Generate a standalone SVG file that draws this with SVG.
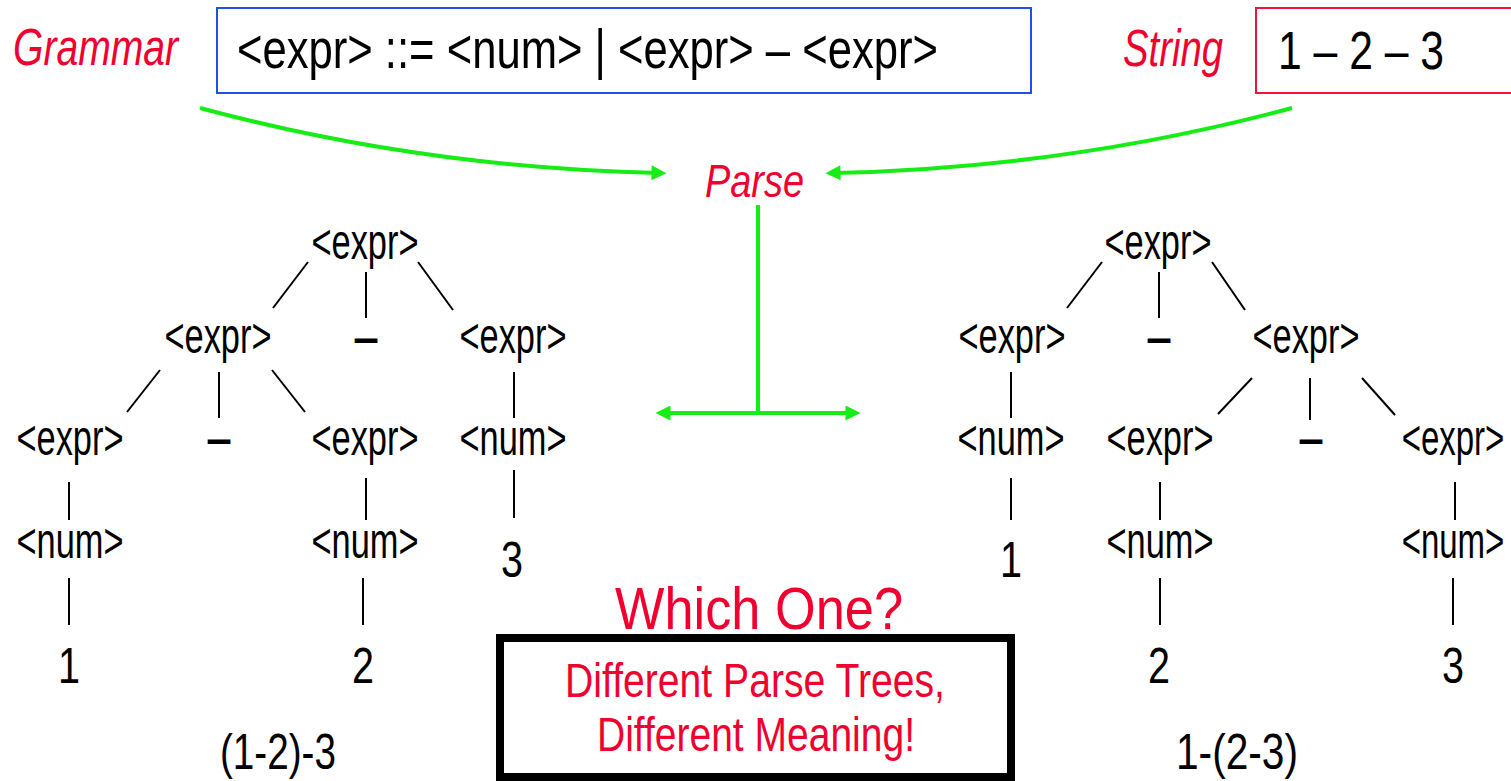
<svg xmlns="http://www.w3.org/2000/svg" width="1511" height="781" viewBox="0 0 1511 781">
<style>
  text { font-family: "Liberation Sans", Arial, sans-serif; }
  .t { font-size: 50px; fill: #000; }
  .op { font-size: 46px; font-weight: bold; fill: #000; }
  .red { fill: #f0002e; }
  .it { font-style: italic; }
  .edge { stroke: #000; stroke-width: 2; fill: none; }
  .green { stroke: #16ec16; stroke-width: 4; fill: none; }
</style>
<defs>
  <marker id="ah" viewBox="0 0 10 10" refX="5" refY="5" markerUnits="userSpaceOnUse" markerWidth="16" markerHeight="15" orient="auto-start-reverse">
    <path d="M0,0 L10,5 L0,10 z" fill="#16ec16"/>
  </marker>
</defs>
<rect width="1511" height="781" fill="#fff"/>

<g id="grammar-label"><text class="red it" x="13" y="65" font-size="52" textLength="165" lengthAdjust="spacingAndGlyphs">Grammar</text></g>
<g id="grammar-box">
  <rect x="217" y="8" width="814" height="85" fill="#fff" stroke="#1f4fe6" stroke-width="2"/>
  <text x="237" y="68" font-size="55" textLength="701" lengthAdjust="spacingAndGlyphs">&lt;expr&gt; ::= &lt;num&gt; | &lt;expr&gt; – &lt;expr&gt;</text>
</g>
<g id="string-label"><text class="red it" x="1123" y="66" font-size="52" textLength="100" lengthAdjust="spacingAndGlyphs">String</text></g>
<g id="string-box">
  <rect x="1256" y="8" width="270" height="85" fill="#fff" stroke="#f0143c" stroke-width="2"/>
  <text x="1278" y="69" font-size="54" textLength="166" lengthAdjust="spacingAndGlyphs">1 – 2 – 3</text>
</g>
<g id="parse"><text class="red it" x="705" y="197" font-size="46" textLength="99" lengthAdjust="spacingAndGlyphs">Parse</text></g>

<g id="connectors">
  <path class="green" d="M200,108 Q423,168 659,173" marker-end="url(#ah)"/>
  <path class="green" d="M1292,108 Q1069,168 833,173" marker-end="url(#ah)"/>
  <path class="green" d="M758,205 L758,413"/>
  <path class="green" d="M663,413 L853,413" marker-start="url(#ah)" marker-end="url(#ah)"/>

  <!-- left tree edges -->
  <line class="edge" x1="308" y1="262" x2="273" y2="308"/>
  <line class="edge" x1="366" y1="272" x2="366" y2="318"/>
  <line class="edge" x1="418" y1="262" x2="453" y2="310"/>
  <line class="edge" x1="160" y1="370" x2="127" y2="412"/>
  <line class="edge" x1="219" y1="372" x2="219" y2="418"/>
  <line class="edge" x1="272" y1="370" x2="305" y2="412"/>
  <line class="edge" x1="514" y1="372" x2="514" y2="418"/>
  <line class="edge" x1="69" y1="482" x2="69" y2="520"/>
  <line class="edge" x1="366" y1="478" x2="366" y2="520"/>
  <line class="edge" x1="514" y1="470" x2="514" y2="518"/>
  <line class="edge" x1="69" y1="578" x2="69" y2="625"/>
  <line class="edge" x1="363" y1="578" x2="363" y2="625"/>

  <!-- right tree edges -->
  <line class="edge" x1="1102" y1="262" x2="1067" y2="308"/>
  <line class="edge" x1="1159" y1="272" x2="1159" y2="318"/>
  <line class="edge" x1="1212" y1="262" x2="1245" y2="310"/>
  <line class="edge" x1="1011" y1="372" x2="1011" y2="418"/>
  <line class="edge" x1="1252" y1="378" x2="1218" y2="414"/>
  <line class="edge" x1="1310" y1="378" x2="1310" y2="420"/>
  <line class="edge" x1="1362" y1="378" x2="1395" y2="415"/>
  <line class="edge" x1="1011" y1="478" x2="1011" y2="520"/>
  <line class="edge" x1="1160" y1="482" x2="1160" y2="520"/>
  <line class="edge" x1="1455" y1="482" x2="1455" y2="520"/>
  <line class="edge" x1="1160" y1="578" x2="1160" y2="625"/>
  <line class="edge" x1="1453" y1="578" x2="1453" y2="625"/>
</g>

<!-- left tree nodes -->
<g id="L-root"><text class="t" x="365" y="259" text-anchor="middle" textLength="107" lengthAdjust="spacingAndGlyphs">&lt;expr&gt;</text></g>
<g id="L-e1"><text class="t" x="218" y="353" text-anchor="middle" textLength="107" lengthAdjust="spacingAndGlyphs">&lt;expr&gt;</text></g>
<g id="L-op1"><text class="op" x="366" y="353" text-anchor="middle">–</text></g>
<g id="L-e2"><text class="t" x="513" y="353" text-anchor="middle" textLength="107" lengthAdjust="spacingAndGlyphs">&lt;expr&gt;</text></g>
<g id="L-e11"><text class="t" x="70" y="455" text-anchor="middle" textLength="107" lengthAdjust="spacingAndGlyphs">&lt;expr&gt;</text></g>
<g id="L-op2"><text class="op" x="219" y="454" text-anchor="middle">–</text></g>
<g id="L-e12"><text class="t" x="365" y="455" text-anchor="middle" textLength="107" lengthAdjust="spacingAndGlyphs">&lt;expr&gt;</text></g>
<g id="L-n3"><text class="t" x="513" y="455" text-anchor="middle" textLength="107" lengthAdjust="spacingAndGlyphs">&lt;num&gt;</text></g>
<g id="L-n1"><text class="t" x="70" y="558" text-anchor="middle" textLength="107" lengthAdjust="spacingAndGlyphs">&lt;num&gt;</text></g>
<g id="L-n2"><text class="t" x="365" y="558" text-anchor="middle" textLength="107" lengthAdjust="spacingAndGlyphs">&lt;num&gt;</text></g>
<g id="L-3"><text class="t" x="512" y="577" text-anchor="middle" textLength="22" lengthAdjust="spacingAndGlyphs">3</text></g>
<g id="L-1"><text class="t" x="69" y="683" text-anchor="middle" textLength="22" lengthAdjust="spacingAndGlyphs">1</text></g>
<g id="L-2"><text class="t" x="363" y="683" text-anchor="middle" textLength="22" lengthAdjust="spacingAndGlyphs">2</text></g>
<g id="L-label"><text class="t" x="278" y="769" text-anchor="middle" textLength="116" lengthAdjust="spacingAndGlyphs">(1-2)-3</text></g>

<!-- right tree nodes -->
<g id="R-root"><text class="t" x="1158" y="259" text-anchor="middle" textLength="107" lengthAdjust="spacingAndGlyphs">&lt;expr&gt;</text></g>
<g id="R-e1"><text class="t" x="1012" y="353" text-anchor="middle" textLength="107" lengthAdjust="spacingAndGlyphs">&lt;expr&gt;</text></g>
<g id="R-op1"><text class="op" x="1159" y="353" text-anchor="middle">–</text></g>
<g id="R-e2"><text class="t" x="1306" y="353" text-anchor="middle" textLength="107" lengthAdjust="spacingAndGlyphs">&lt;expr&gt;</text></g>
<g id="R-n1"><text class="t" x="1011" y="455" text-anchor="middle" textLength="107" lengthAdjust="spacingAndGlyphs">&lt;num&gt;</text></g>
<g id="R-e21"><text class="t" x="1160" y="455" text-anchor="middle" textLength="107" lengthAdjust="spacingAndGlyphs">&lt;expr&gt;</text></g>
<g id="R-op2"><text class="op" x="1311" y="454" text-anchor="middle">–</text></g>
<g id="R-e22"><text class="t" transform="translate(1453,455) scale(0.66,1)" x="0" y="0" text-anchor="middle">&lt;expr&gt;</text></g>
<g id="R-1"><text class="t" x="1011" y="577" text-anchor="middle" textLength="22" lengthAdjust="spacingAndGlyphs">1</text></g>
<g id="R-n2"><text class="t" x="1160" y="558" text-anchor="middle" textLength="107" lengthAdjust="spacingAndGlyphs">&lt;num&gt;</text></g>
<g id="R-n3"><text class="t" transform="translate(1453,558) scale(0.66,1)" x="0" y="0" text-anchor="middle">&lt;num&gt;</text></g>
<g id="R-2"><text class="t" x="1159" y="683" text-anchor="middle" textLength="22" lengthAdjust="spacingAndGlyphs">2</text></g>
<g id="R-3"><text class="t" x="1453" y="683" text-anchor="middle" textLength="22" lengthAdjust="spacingAndGlyphs">3</text></g>
<g id="R-label"><text class="t" x="1237" y="769" text-anchor="middle" textLength="122" lengthAdjust="spacingAndGlyphs">1-(2-3)</text></g>

<g id="which-one"><text class="red" x="759" y="629" font-size="60" text-anchor="middle" textLength="288" lengthAdjust="spacingAndGlyphs">Which One?</text></g>
<g id="meaning-box">
  <rect x="500" y="638" width="511" height="139" fill="#fff" stroke="#000" stroke-width="8"/>
  <text class="red" x="755" y="697" font-size="49" text-anchor="middle" textLength="380" lengthAdjust="spacingAndGlyphs">Different Parse Trees,</text>
  <text class="red" x="756" y="751" font-size="49" text-anchor="middle" textLength="318" lengthAdjust="spacingAndGlyphs">Different Meaning!</text>
</g>
</svg>
